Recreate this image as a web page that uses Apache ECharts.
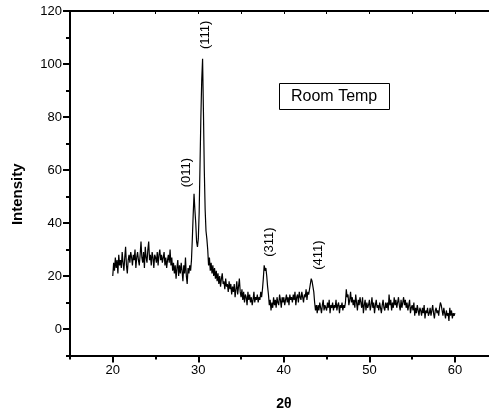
<!DOCTYPE html>
<html>
<head>
<meta charset="utf-8">
<script src="https://cdn.jsdelivr.net/npm/echarts@6/dist/echarts.min.js"></script>
<style>html,body{margin:0;padding:0;background:#fff;}#c{width:489px;height:410px;}</style>
</head>
<body>
<div id="c"></div>
<script>
// 2θ sampling grid (degrees)
const thetaStart = 20.0;
const thetaStep = 0.1;
// Intensity values, 20.0 → 60.0 in 0.1° steps
const intensity = [
  20,25,22,27,23,26,21,28,24,26,
  23,29,25,22,27,31,24,21,26,28,
  25,29,27,24,28,26,30,23,27,29,
  26,24,28,33,27,25,29,23,31,27,
  25,30,33,26,28,24,29,27,23,28,
  27,25,29,24,28,30,26,28,25,27,
  29,24,27,23,26,28,25,30,24,27,
  22,25,21,24,19,23,26,20,24,21,
  25,22,18,24,21,27,20,17,23,21,
  24,22,26,34,43,51,45,40,33,31,
  34,44,62,80,94,102,82,60,45,37,
  34,30,24,27,22,25,21,24,20,23,
  19,22,18,21,17,20,16,19,21,17,
  18,15,19,16,17,14,18,15,17,13,
  16,14,17,12,15,18,13,16,19,14,
  12,15,11,14,10,13,12,9,14,11,
  13,10,12,9,11,14,10,12,11,13,
  10,12,11,14,12,15,19,24,22,23,
  20,16,13,9,11,7,10,8,12,9,
  11,8,12,10,9,13,11,8,12,10,
  12,9,11,13,10,12,9,13,11,12,
  10,13,11,14,9,12,13,10,14,12,
  11,14,12,10,13,12,15,11,14,13,
  15,17,19,18,16,14,10,7,9,6,
  9,7,10,8,6,9,11,7,9,8,
  7,10,8,11,6,9,8,10,7,9,
  8,11,7,9,10,6,9,8,10,7,
  9,8,10,15,12,13,9,11,14,10,
  12,9,11,8,13,10,7,11,9,12,
  10,8,12,6,9,11,7,10,8,9,
  11,7,9,12,8,10,6,9,11,8,
  9,7,10,8,6,9,11,8,7,10,
  8,10,7,13,9,11,7,10,8,12,
  9,11,8,10,12,9,7,11,8,10,
  12,9,11,8,10,7,9,11,6,8,
  9,7,10,5,8,6,9,7,5,8,
  7,5,8,6,9,4,7,6,8,5,
  6,8,5,7,9,6,4,7,8,6,
  7,5,8,10,9,7,5,8,6,4,
  7,5,6,3,8,5,7,4,6,5,
  6
];
// Peak labels and their anchor positions (2θ, intensity)
const peakNames = ['(011)','(111)','(311)','(411)'];
const peakTheta = [28.6, 30.8, 38.35, 44.0];
const peakLabelY = [59, 111, 32.8, 27.9];
// Tick values
const xMajor = [20,30,40,50,60];
const xMinor = [15,25,35,45,55,65];
const xAll = [15,20,25,30,35,40,45,50,55,60,65];
const yMajor = [0,20,40,60,80,100,120];
const yMinor = [-10,10,30,50,70,90,110];

const seriesData = intensity.map((v, i) => [+(thetaStart + i * thetaStep).toFixed(2), v]);

const FONT = '"Liberation Sans", Arial, sans-serif';
const chart = echarts.init(document.getElementById('c'), null, {renderer: 'canvas'});
const axisLine = {show: true, onZero: false, lineStyle: {color: '#000', width: 2}};
chart.setOption({
  animation: false,
  backgroundColor: '#fff',
  title: {
    text: 'Room Temp',
    left: 279, top: 83,
    borderColor: '#000', borderWidth: 1,
    padding: [5, 12, 5, 12],
    textStyle: {fontFamily: FONT, fontSize: 16, fontWeight: 'normal', color: '#000', lineHeight: 17}
  },
  grid: {left: 70, right: -8.7, top: 11, bottom: 54.5, containLabel: false, outerBoundsMode: 'none'},
  xAxis: [
    {
      type: 'value', min: 15, max: 65, position: 'bottom',
      name: '2θ', nameLocation: 'middle', nameGap: 42,
      nameTextStyle: {fontFamily: FONT, fontSize: 14, fontWeight: 'bold', color: '#000'},
      axisLine: axisLine,
      axisTick: {show: true, inside: false, length: 7, lineStyle: {color: '#000', width: 2}, customValues: xMajor},
      axisLabel: {show: true, customValues: xMajor, margin: 8, fontFamily: FONT, fontSize: 13, color: '#000'},
      splitLine: {show: false}
    },
    {
      type: 'value', min: 15, max: 65, position: 'bottom',
      axisLine: {show: false, onZero: false},
      axisTick: {show: true, inside: false, length: 4, lineStyle: {color: '#000', width: 2}, customValues: xMinor},
      axisLabel: {show: false},
      splitLine: {show: false}
    },
    {
      type: 'value', min: 15, max: 65, position: 'top',
      axisLine: axisLine,
      axisTick: {show: true, inside: true, length: 3, lineStyle: {color: '#000', width: 1}, customValues: xAll},
      axisLabel: {show: false},
      splitLine: {show: false}
    }
  ],
  yAxis: [
    {
      type: 'value', min: -10, max: 120, position: 'left',
      name: 'Intensity', nameLocation: 'middle', nameGap: 45, nameRotate: 90,
      nameTextStyle: {fontFamily: FONT, fontSize: 15, fontWeight: 'bold', color: '#000', padding: [0, 22, 0, 0]},
      axisLine: axisLine,
      axisTick: {show: true, inside: false, length: 7, lineStyle: {color: '#000', width: 2}, customValues: yMajor},
      axisLabel: {show: true, customValues: yMajor, margin: 8, fontFamily: FONT, fontSize: 13, color: '#000'},
      splitLine: {show: false}
    },
    {
      type: 'value', min: -10, max: 120, position: 'left',
      axisLine: {show: false, onZero: false},
      axisTick: {show: true, inside: false, length: 4, lineStyle: {color: '#000', width: 2}, customValues: yMinor},
      axisLabel: {show: false},
      splitLine: {show: false}
    }
  ],
  series: [{
    type: 'line',
    xAxisIndex: 0, yAxisIndex: 0,
    data: seriesData,
    showSymbol: false,
    symbol: 'none',
    lineStyle: {color: '#000', width: 1.2},
    silent: true,
    markPoint: {
      symbol: 'circle', symbolSize: 0,
      label: {
        show: true, position: 'inside', rotate: 90,
        fontFamily: FONT, fontSize: 13, color: '#000',
        formatter: p => p.name
      },
      data: peakNames.map((n, i) => ({name: n, coord: [peakTheta[i], peakLabelY[i]]}))
    }
  }]
});
</script>
</body>
</html>
